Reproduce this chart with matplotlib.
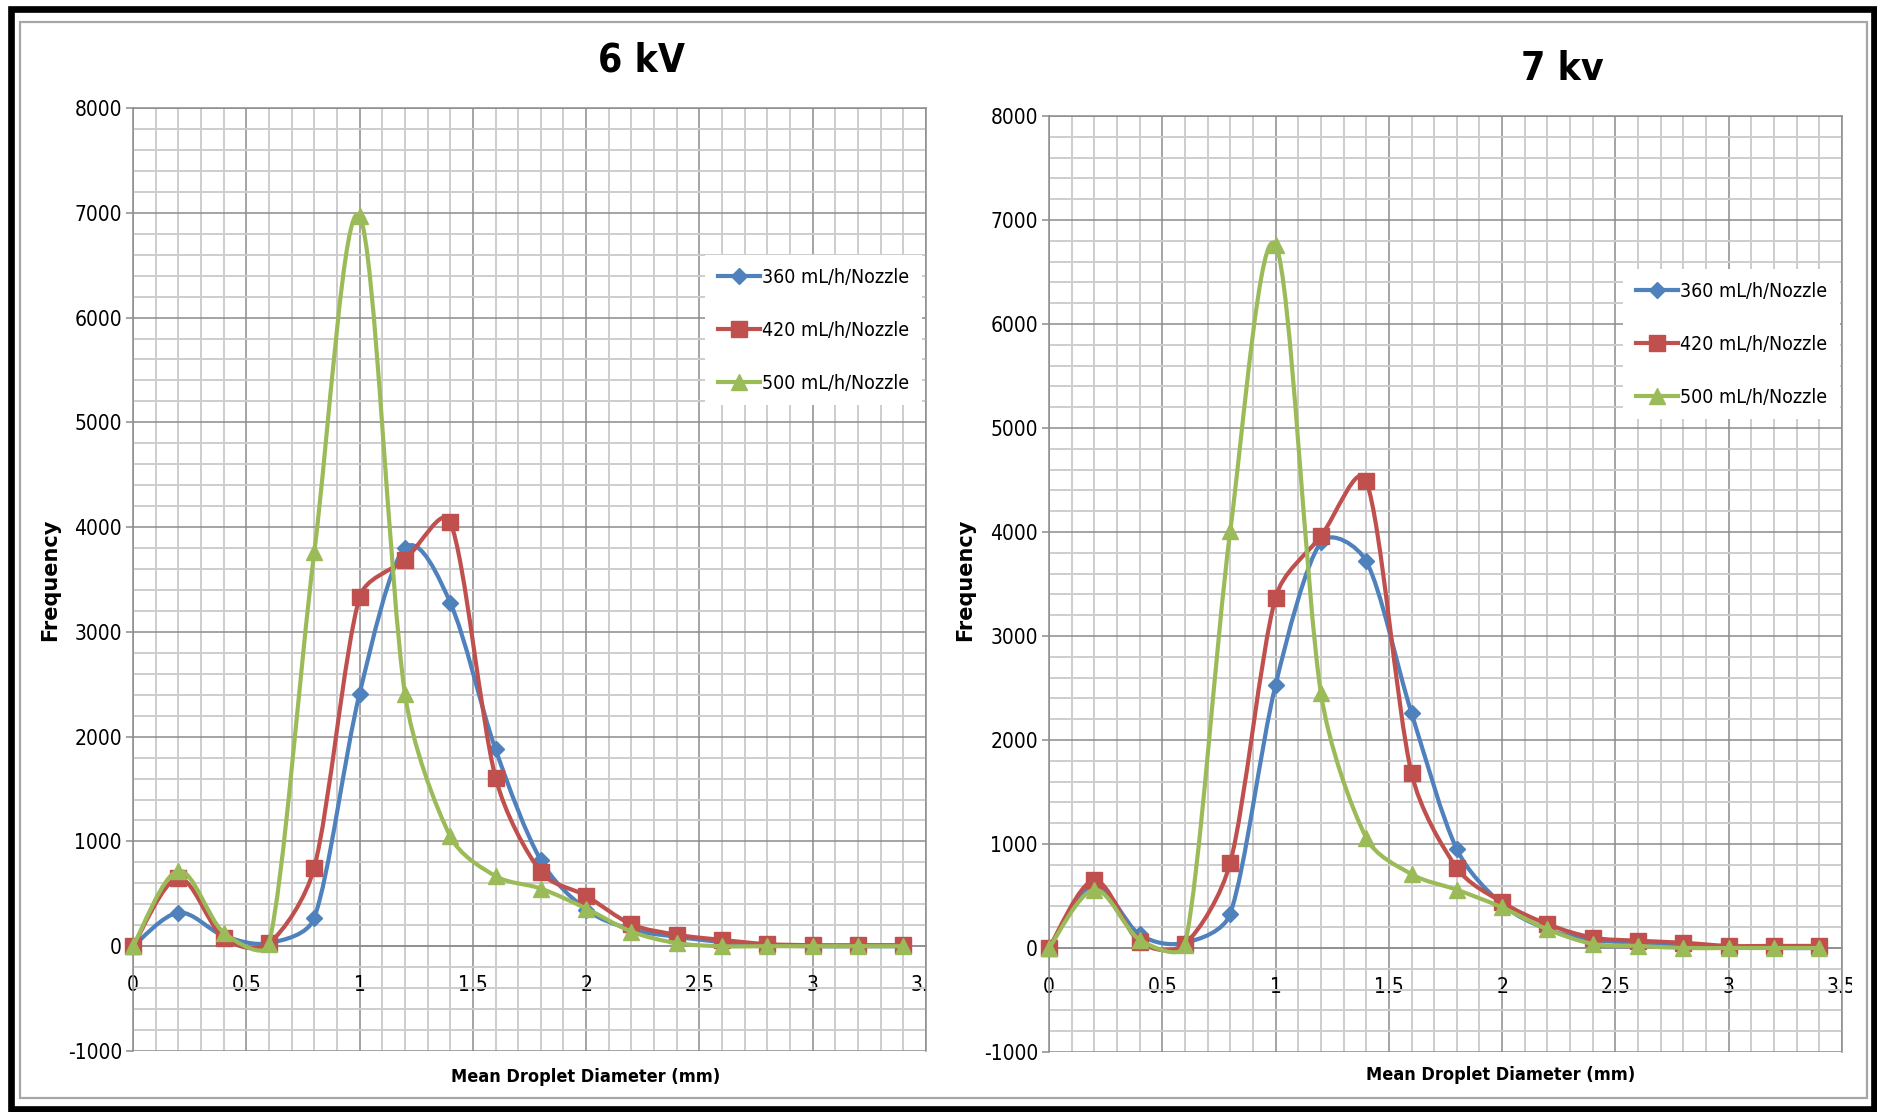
import matplotlib.pyplot as plt
import numpy as np
from matplotlib.path import Path
from matplotlib.patches import PathPatch, Rectangle
from matplotlib.lines import Line2D
from matplotlib.ticker import MultipleLocator
from matplotlib.transforms import Bbox, TransformedBbox

plt.rcParams['font.family'] = ['DejaVu Sans']
plt.rcParams['font.stretch'] = 'condensed'

# data
diameter = [0, 0.2, 0.4, 0.6, 0.8, 1.0, 1.2, 1.4, 1.6, 1.8, 2.0, 2.2, 2.4, 2.6, 2.8, 3.0, 3.2, 3.4]

kv6_360 = [0, 320, 100, 30, 270, 2410, 3800, 3280, 1880, 820, 350, 160, 90, 40, 10, 0, 0, 0]
kv6_420 = [0, 650, 80, 30, 750, 3330, 3690, 4050, 1610, 710, 480, 210, 110, 60, 20, 10, 10, 10]
kv6_500 = [0, 720, 130, 20, 3760, 6970, 2410, 1050, 670, 550, 360, 140, 30, 0, 0, 0, 0, 0]

kv7_360 = [0, 600, 130, 50, 330, 2530, 3900, 3720, 2260, 950, 420, 180, 80, 50, 20, 10, 0, 0]
kv7_420 = [0, 650, 60, 40, 820, 3370, 3960, 4490, 1680, 770, 440, 230, 100, 70, 50, 20, 20, 20]
kv7_500 = [0, 560, 80, 30, 4010, 6760, 2450, 1060, 710, 560, 390, 180, 40, 20, 0, 0, 0, 0]

series_labels = ['360 mL/h/Nozzle', '420 mL/h/Nozzle', '500 mL/h/Nozzle']
x_tick_labels = ['0', '0.5', '1', '1.5', '2', '2.5', '3', '3.5']
y_ticks = [-1000, 0, 1000, 2000, 3000, 4000, 5000, 6000, 7000, 8000]

colors = ['#4F81BD', '#C0504D', '#9BBB59']
markers = [('D', 8), ('s', 11), ('^', 12)]


def smooth_path(ax, x, y, r=0.35):
    # Excel-like smoothed line: Catmull-Rom Bezier through the points,
    # handles limited to a share of the segment length (on screen)
    tr = ax.transData
    p = tr.transform(np.column_stack([x, y]).astype(float))
    n = len(p)
    h = np.array([(p[min(i + 1, n - 1)] - p[max(i - 1, 0)]) / 6 for i in range(n)])
    verts = [p[0]]
    codes = [Path.MOVETO]
    for i in range(n - 1):
        a, b = p[i], p[i + 1]
        seg = np.hypot(*(b - a))
        ha, hb = h[i], h[i + 1]
        fa = min(1.0, r * seg / (np.hypot(*ha) or 1))
        fb = min(1.0, r * seg / (np.hypot(*hb) or 1))
        verts += [a + ha * fa, b - hb * fb, b]
        codes += [Path.CURVE4] * 3
    return Path(tr.inverted().transform(np.array(verts)), codes)


W, H = 1877, 1112
fig = plt.figure(figsize=(W / 100, H / 100), dpi=100)

# outer black frame and grey chart-area border
fig.add_artist(Rectangle((10.5 / W, 3.5 / H), (1873.5 - 10.5) / W, (1103 - 3.5) / H,
                         transform=fig.transFigure, fill=False, ec='black', lw=4.8))
fig.add_artist(Rectangle((20 / W, 1 - 1098 / H), (1867 - 20) / W, (1098 - 22) / H,
                         transform=fig.transFigure, fill=False, ec='#a6a6a6', lw=1.6))

panels = [
    dict(rect=[133 / W, 1 - 1051 / H, 793 / W, 943 / H], data=[kv6_360, kv6_420, kv6_500],
         title='6 kV', tpos=(641 / W, 1 - 60 / H), ylpos=(50 / W, 1 - 580 / H),
         xlpos=(586 / W, 1 - 1077 / H), leg=(0.995, 0.844), clip=1.004),
    dict(rect=[1049 / W, 1 - 1052 / H, 793 / W, 936 / H], data=[kv7_360, kv7_420, kv7_500],
         title='7 kv', tpos=(1562 / W, 1 - 69 / H), ylpos=(965 / W, 1 - 580 / H),
         xlpos=(1501 / W, 1 - 1075 / H), leg=(0.9975, 0.8365), clip=1.0126),
]

grid_major = '#8c8c8c'
grid_minor = '#cdcdcd'

for pnl in panels:
    ax = fig.add_axes(pnl['rect'])
    ax.set_xlim(0, 3.5)
    ax.set_ylim(-1000, 8000)
    ax.set_axisbelow(True)

    ax.set_xticks(np.arange(0, 3.51, 0.5))
    ax.set_xticklabels(x_tick_labels)
    ax.xaxis.set_minor_locator(MultipleLocator(0.1))
    ax.set_yticks(y_ticks)
    ax.set_yticklabels([str(v) for v in y_ticks])
    ax.yaxis.set_minor_locator(MultipleLocator(200))

    ax.grid(which='minor', color=grid_minor, lw=1.4)
    ax.grid(which='major', color=grid_major, lw=1.1)

    for s in ax.spines.values():
        s.set_color(grid_major)
        s.set_linewidth(1.1)
    ax.spines['bottom'].set_position(('data', 0))

    ax.tick_params(axis='x', which='both', length=0, pad=21, labelsize=15, labelcolor='black')
    ax.tick_params(axis='y', which='major', length=5, width=1.1, color=grid_major,
                   pad=3, labelsize=15, labelcolor='black')
    ax.tick_params(axis='y', which='minor', length=0)

    for k, ys in enumerate(pnl['data']):
        ax.add_patch(PathPatch(smooth_path(ax, diameter, ys), fill=False, ec=colors[k],
                               lw=3.0, zorder=3 + k, capstyle='round', joinstyle='round'))
        m, ms = markers[k]
        ax.plot(diameter, ys, ls='none', marker=m, markersize=ms, color=colors[k],
                zorder=3.5 + k, clip_on=False)

    # last x tick label is cut off at the plot edge
    lab = ax.xaxis.get_major_ticks()[-1].label1
    lab.set_clip_on(True)
    lab.set_clip_box(TransformedBbox(Bbox([[-0.1, -0.3], [pnl['clip'], 1.0]]), ax.transAxes))

    handles = [Line2D([], [], color=colors[k], lw=3.0, marker=markers[k][0],
                      markersize=markers[k][1]) for k in range(3)]
    ax.legend(handles, series_labels, loc='upper right', bbox_to_anchor=pnl['leg'],
              fontsize=14, frameon=True, framealpha=1, edgecolor='none', fancybox=False,
              handlelength=2.2, handletextpad=0.1, labelspacing=1.75, borderpad=0.65,
              borderaxespad=0)

    fig.text(*pnl['tpos'], pnl['title'], ha='center', va='center', fontsize=28,
             fontweight='bold')
    fig.text(*pnl['ylpos'], 'Frequency', ha='center', va='center', rotation=90,
             fontsize=15, fontweight='bold', fontstretch='normal')
    fig.text(*pnl['xlpos'], 'Mean Droplet Diameter (mm)', ha='center', va='center',
             fontsize=13, fontweight='bold')

fig.savefig('out.png', dpi=100)
